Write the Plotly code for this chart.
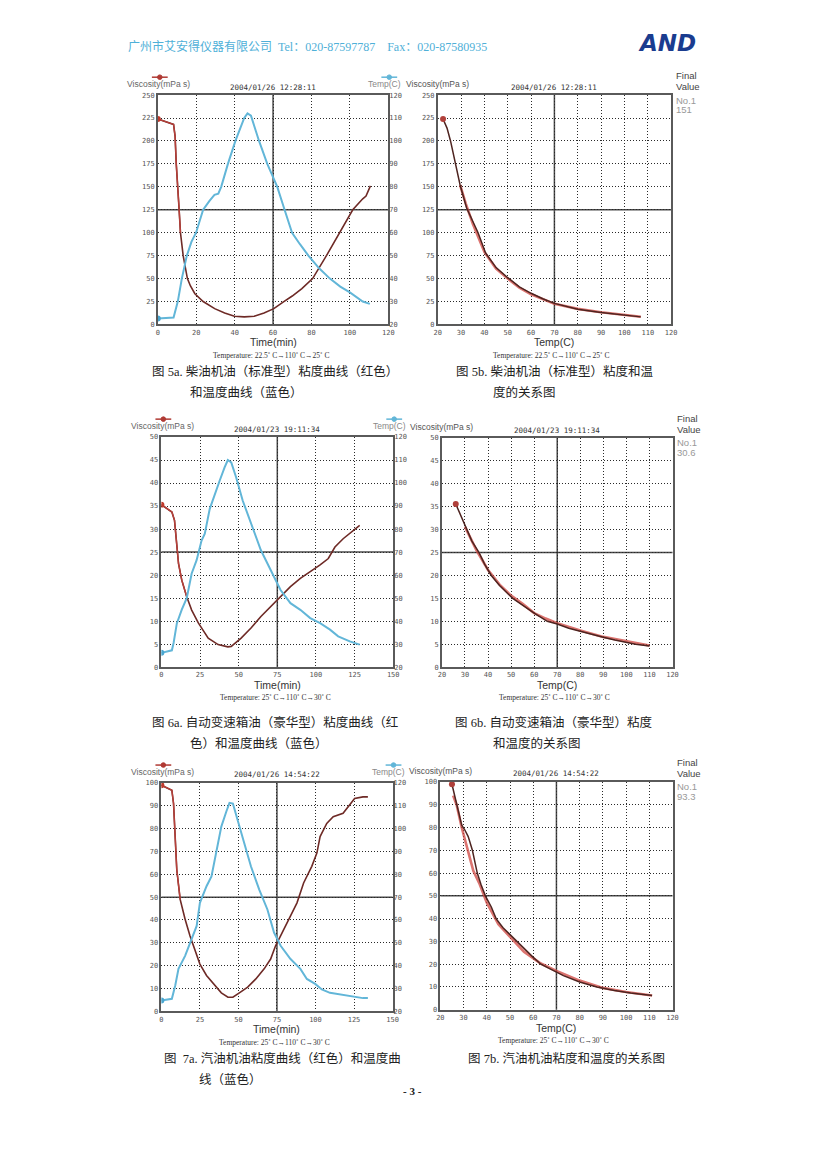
import plotly.graph_objects as go

W, H = 826, 1169
def px(x): return x / W
def py(y): return 1 - y / H

# ---------------- DATA ----------------
# Fig 5a  (time, viscosity / temperature)
t5a_v = [0, 4, 8.2, 9, 9.6, 11.1, 11.8, 13.2, 15.4, 17, 19.3, 23.6, 29.6, 34.8, 39.9, 45, 50.2, 55.3,
         60.4, 65.6, 70, 75, 80.6, 87.8, 94.7, 101.5, 106.7, 108.4, 110.7]
v5a = [224, 221, 218, 205, 175, 125, 100, 75, 50, 42, 33.5, 25, 17.3, 12.6, 9, 8.3, 9, 12.6,
       17.3, 25, 31, 39, 50, 75, 100, 125, 137, 140, 151]
t5a_T = [0, 8.2, 10.4, 12.5, 15.1, 17.5, 19.9, 23.6, 27, 29.5, 31.5, 33, 36.5, 40.4, 45, 46.7, 48.5,
         52.7, 57, 62.2, 66, 69.9, 74, 78.4, 84, 89.6, 95, 100, 106.7, 110.4]
T5a = [22.6, 23, 30, 40, 50, 56, 60, 70, 74, 76.5, 77, 80, 90, 100, 110, 112, 111,
       100, 90, 80, 70, 60, 55, 50, 44.5, 40, 36.5, 34, 30, 29]
# Fig 5b  (temperature, viscosity) heating / cooling
T5b_up = [22.3, 24, 25.5, 27.5, 29.6, 32.4, 35, 37.3, 40.5, 45, 50, 55, 60, 65, 70, 75, 80, 90, 100, 107]
v5b_up = [224, 214, 200, 176, 152, 127, 112, 100, 78, 62, 51, 41, 34, 28, 23, 19.5, 16.6, 13, 10, 8.3]
T5b_dn = [107, 100, 90, 80, 70, 60, 55, 50, 45, 40, 35, 32, 29.6]
v5b_dn = [8.5, 10.3, 13.4, 17, 22.5, 33, 40, 50, 61, 79, 110, 132, 152]

# Fig 6a
t6a_v = [0, 6.8, 8.5, 10, 11.1, 13.2, 16.4, 19.6, 23.9, 30.3, 36.7, 43, 45.2, 51.6, 58, 64.4, 70.7,
         77.1, 83.5, 89.9, 96.3, 102.7, 108, 112.3, 117.6, 123, 128.3]
v6a = [35.3, 33.7, 31.9, 26.8, 22.5, 18.9, 15.3, 12.4, 9.6, 6.3, 4.9, 4.4, 4.5, 6.3, 8.5, 11, 13.2,
       15.3, 17.5, 19.3, 20.7, 22.2, 23.6, 26.1, 27.9, 29.4, 30.8]
t6a_T = [0, 6.8, 7.9, 10, 13.2, 16.4, 19.6, 22.8, 26, 28.1, 31.3, 34.5, 37.7, 40.9, 43, 45.2, 48.4,
         52.6, 58, 64.4, 70.7, 77.1, 83.5, 89.9, 96.3, 102.7, 109.1, 114.4, 121.9, 128.3]
T6a = [26.2, 27.3, 30.5, 39, 45, 50, 60.7, 66.5, 75, 78, 88.8, 95.3, 101, 106.8, 110, 109, 102.4,
       92.4, 82.3, 70.8, 62.2, 53.5, 47.8, 44.9, 41.3, 39.1, 36.3, 33.4, 31.2, 29.8]
# Fig 6b
T6b_up = [26, 28, 30.7, 33, 36.1, 38.5, 41.4, 45, 50.7, 55, 60, 65.7, 70, 75, 80, 85, 90, 95, 100, 104, 110]
v6b_up = [35.6, 33.2, 30, 27.5, 25, 22.5, 20, 17.8, 15, 13.5, 11.8, 10, 9.4, 8.5, 7.8, 7.1, 6.5, 5.9, 5.4, 5.0, 4.6]
T6b_dn = [110, 100, 90, 80, 70, 65, 60, 55, 50, 45, 40, 35, 30]
v6b_dn = [4.7, 5.6, 6.6, 8.0, 9.6, 10.6, 11.8, 13.8, 15.6, 18, 21.2, 25.5, 30.6]

# Fig 7a
t7a_v = [0, 4.7, 6.8, 7.9, 9, 10, 12.2, 15.4, 18.6, 21.8, 25, 29.3, 34.6, 38.9, 43.2, 46.4, 50.6, 56,
         61.3, 66.7, 70.9, 74.1, 78.4, 82.7, 88, 92.3, 97.6, 100.9, 103, 107.3, 111.5, 117.9, 121.2,
         125.4, 130.8, 134]
v7a = [99, 97.5, 96.8, 91, 76.5, 62, 49, 40.3, 33, 27.2, 20.7, 15.7, 11.3, 8.1, 6.2, 6.2, 8.1, 10.6,
       14.2, 18.6, 22.9, 28.7, 34.5, 40.3, 47.5, 56.2, 63.5, 69.3, 76.5, 82.3, 85.2, 86.7, 89.6,
       93.2, 93.9, 93.9]
t7a_T = [0, 6.8, 9, 11.1, 15.4, 20.7, 22.9, 25, 29.3, 32.5, 35.7, 38.9, 42.1, 44.2, 46.4, 49.6, 53.8,
         58.1, 63.5, 68.8, 73.1, 77.4, 83.8, 90.2, 94.4, 99.8, 104.1, 109.4, 117.9, 124.4, 130.8, 134]
T7a = [24.8, 25.5, 31.3, 38.6, 44.3, 53, 57.4, 67.5, 74.8, 79.1, 89.3, 100.9, 107.4, 111.3, 111, 103.8,
       93.6, 83.5, 73.3, 64.6, 54.5, 48.7, 42.9, 38.6, 34.2, 32, 29.6, 28.1, 27.2, 26.2, 25.8, 25.8]
# Fig 7b
T7b_up = [25, 26, 27.1, 28.5, 29.2, 30.5, 32, 33.8, 35.9, 37.5, 39.4, 42, 44, 47, 50, 52.6, 56, 60,
          63.3, 68, 73, 80, 87.4, 95, 102, 111.2]
v7b_up = [99, 94, 90, 84, 81, 79, 76, 70, 60, 55, 50, 45, 40, 36, 33, 30, 27, 23, 20, 17.5, 15,
          12.2, 10, 8.5, 7.4, 6.3]
T7b_dn = [111.2, 100, 90, 80, 70, 63.3, 56, 50, 45, 40, 37, 34.2, 31.8, 29.2, 27, 25.5]
v7b_dn = [6.3, 7.8, 9.6, 12.8, 17, 20.3, 25.5, 32, 37.5, 47, 55, 61, 70, 80, 90, 94]

# labels
dates = ["2004/01/26 12:28:11", "2004/01/23 19:11:34", "2004/01/26 14:54:22"]
finals = ["151", "30.6", "93.3"]
temp_programs = ["Temperature: 22.5˚ C→110˚ C→25˚ C", "Temperature: 25˚ C→110˚ C→30˚ C",
                 "Temperature: 25˚ C→110˚ C→30˚ C"]
captions_a = [["图 5a. 柴油机油（标准型）粘度曲线（红色）", "和温度曲线（蓝色）"],
              ["图 6a. 自动变速箱油（豪华型）粘度曲线（红", "色）和温度曲线（蓝色）"],
              ["图  7a. 汽油机油粘度曲线（红色）和温度曲", "线（蓝色）"]]
captions_b = [["图 5b. 柴油机油（标准型）粘度和温", "度的关系图"],
              ["图 6b. 自动变速箱油（豪华型）粘度", "和温度的关系图"],
              ["图 7b. 汽油机油粘度和温度的关系图"]]
header = "广州市艾安得仪器有限公司  Tel：020-87597787    Fax：020-87580935"

# ---------------- STYLE ----------------
VISC = "#6e2a26"
VISC_RED = "#d0453f"
TEMP = "#62b6d8"
TICKF = dict(family="DejaVu Sans Mono", size=7, color="#555")
SERIF = "Liberation Serif, Noto Sans CJK SC"

boxes = {  # L, R, T, B in page pixels
    "5a": (155.7, 389, 91.7, 322.7), "5b": (439, 675.3, 91.7, 322.7),
    "6a": (159.3, 394, 436, 667.7), "6b": (443.3, 676.7, 437, 667.7),
    "7a": (159.3, 393.3, 784.3, 1014.3), "7b": (441.7, 676.7, 783.3, 1012.7),
}

fig = go.Figure()
layout = dict(width=W, height=H, margin=dict(l=0, r=0, t=0, b=0),
              paper_bgcolor="white", plot_bgcolor="white", showlegend=False)
shapes, anns = [], []

def ann(text, x, y, size, color="#333", family="Liberation Sans", xanchor="center", **kw):
    anns.append(dict(text=text, x=px(x), y=py(y), xref="paper", yref="paper", showarrow=False,
                     xanchor=xanchor, yanchor="middle", font=dict(size=size, color=color, family=family), **kw))

def axis_common():
    return dict(showgrid=True, gridcolor="#2a2a2a", griddash="1px,2px", gridwidth=1, showline=True,
                mirror=True, linecolor="#5a5a5a", linewidth=1.5, zeroline=False, tickfont=TICKF,
                ticks="", fixedrange=True)

def setup(idx, key, xr, xd, yr, yd, xmid, ymid, yr2=None, y2idx=None):
    L, R, T, B = boxes[key]
    xs = "" if idx == 1 else str(idx)
    xa = axis_common(); xa.update(domain=[px(L), px(R)], range=xr, dtick=xd, tick0=xr[0], anchor="y" + xs)
    ya = axis_common(); ya.update(domain=[py(B), py(T)], range=yr, dtick=yd, tick0=yr[0], anchor="x" + xs)
    layout["xaxis" + xs] = xa
    layout["yaxis" + xs] = ya
    if yr2 is not None:
        layout["yaxis" + str(y2idx)] = dict(overlaying="y" + xs, side="right", anchor="x" + xs,
                                            range=yr2, dtick=10, tick0=yr2[0], showgrid=False,
                                            showline=False, zeroline=False, tickfont=TICKF, ticks="",
                                            fixedrange=True)
    shapes.append(dict(type="line", xref="x" + xs, yref="y" + xs + " domain", x0=xmid, x1=xmid, y0=0, y1=1,
                       layer="below", line=dict(color="#4a4a4a", width=1.5)))
    shapes.append(dict(type="line", xref="x" + xs + " domain", yref="y" + xs, x0=0, x1=1, y0=ymid, y1=ymid,
                       layer="below", line=dict(color="#4a4a4a", width=1.5)))
    return xs

def legend_mark(cx, y, color):
    shapes.append(dict(type="line", xref="paper", yref="paper", x0=px(cx - 8), x1=px(cx + 8),
                       y0=py(y), y1=py(y), line=dict(color=color, width=1.5)))
    shapes.append(dict(type="circle", xref="paper", yref="paper", x0=px(cx - 2.3), x1=px(cx + 2.3),
                       y0=py(y + 2.3), y1=py(y - 2.3), fillcolor=color, line=dict(color=color, width=1)))

def panel_a(idx, key, y2idx, t_v, v, t_T, T, xr, xd, yr, yd, xmid, ymid, row):
    xs = setup(idx, key, xr, xd, yr, yd, xmid, ymid, yr2=[20, 120], y2idx=y2idx)
    fig.add_trace(go.Scatter(x=t_T, y=T, xaxis="x" + xs, yaxis="y" + str(y2idx), mode="lines",
                             line=dict(color=TEMP, width=2)))
    fig.add_trace(go.Scatter(x=t_v, y=v, xaxis="x" + xs, yaxis="y" + xs, mode="lines",
                             line=dict(color=VISC, width=1.6)))
    fig.add_trace(go.Scatter(x=t_v[:7], y=v[:7], xaxis="x" + xs, yaxis="y" + xs, mode="lines",
                             line=dict(color="#b8403a", width=1.4)))
    fig.add_trace(go.Scatter(x=[t_T[0]], y=[T[0]], xaxis="x" + xs, yaxis="y" + str(y2idx), mode="markers",
                             marker=dict(color="#4aa6d0", size=6)))
    fig.add_trace(go.Scatter(x=[t_v[0]], y=[v[0]], xaxis="x" + xs, yaxis="y" + xs, mode="markers",
                             marker=dict(color="#c0392b", size=6)))
    L, R, T_, B = boxes[key]
    ann("Viscosity(mPa s)", L + 1, T_ - 11, 8.5, "#666")
    ann("Temp(C)", R - 4, T_ - 11, 8.5, "#888")
    legend_mark(L + 2, T_ - 18, "#b03a34")
    legend_mark(R + 1, T_ - 18, TEMP)
    ann(dates[row], (L + R) / 2, T_ - 8, 7.5, "#333", "DejaVu Sans Mono")
    ann("Time(min)", (L + R) / 2, B + 18, 10.5, "#333")
    ann(temp_programs[row], (L + R) / 2 - 2, B + 31, 7.5, "#333", SERIF)

def panel_b(idx, key, Tu, vu, Td, vd, yr, yd, ymid, row):
    xs = setup(idx, key, [20, 120], 10, yr, yd, 70, ymid)
    fig.add_trace(go.Scatter(x=Td, y=vd, xaxis="x" + xs, yaxis="y" + xs, mode="lines",
                             line=dict(color=VISC_RED, width=2.6), opacity=0.75))
    fig.add_trace(go.Scatter(x=Tu, y=vu, xaxis="x" + xs, yaxis="y" + xs, mode="lines",
                             line=dict(color="#4e2420", width=1.5)))
    fig.add_trace(go.Scatter(x=[Tu[0]], y=[vu[0]], xaxis="x" + xs, yaxis="y" + xs, mode="markers",
                             marker=dict(color="#b0403a", size=6)))
    L, R, T_, B = boxes[key]
    ann("Viscosity(mPa s)", L, T_ - 11, 8.5, "#555")
    ann(dates[row], (L + R) / 2, T_ - 8, 7.5, "#333", "DejaVu Sans Mono")
    ann("Final", R + 3, T_ - 20, 9.5, "#444", xanchor="left")
    ann("Value", R + 3, T_ - 9, 9.5, "#444", xanchor="left")
    ann("No.1", R + 3, T_ + 5, 9.5, "#999", xanchor="left")
    ann(finals[row], R + 3, T_ + 15, 9.5, "#999", xanchor="left")
    ann("Temp(C)", (L + R) / 2, B + 18, 10.5, "#333")
    ann(temp_programs[row], (L + R) / 2 - 3, B + 31, 7.5, "#333", SERIF)

panel_a(1, "5a", 7, t5a_v, v5a, t5a_T, T5a, [0, 120], 20, [0, 250], 25, 60, 125, 0)
panel_b(2, "5b", T5b_up, v5b_up, T5b_dn, v5b_dn, [0, 250], 25, 125, 0)
panel_a(3, "6a", 8, t6a_v, v6a, t6a_T, T6a, [0, 150], 25, [0, 50], 5, 75, 25, 1)
panel_b(4, "6b", T6b_up, v6b_up, T6b_dn, v6b_dn, [0, 50], 5, 25, 1)
panel_a(5, "7a", 9, t7a_v, v7a, t7a_T, T7a, [0, 150], 25, [0, 100], 10, 75, 50, 2)
panel_b(6, "7b", T7b_up, v7b_up, T7b_dn, v7b_dn, [0, 100], 10, 50, 2)

# captions
cap_y = [(370, 391), (723, 745), (1062, 1083)]
cap_a_x = [(148, 186), (148, 186), (160, 195)]
cap_b_x = [(456, 493), (455, 493), (468, 0)]
for i in range(3):
    for j, line in enumerate(captions_a[i]):
        ann(line, cap_a_x[i][j], cap_y[i][j], 12.5, "#222", SERIF, xanchor="left")
    for j, line in enumerate(captions_b[i]):
        ann(line, cap_b_x[i][j], cap_y[i][j], 12.5, "#222", SERIF, xanchor="left")

# header, logo, page number
ann(header, 124, 43, 12, "#4fb0d8", SERIF, xanchor="left")
ann("<b><i>AND</i></b>", 671, 39, 23, "#1a3c8f", "DejaVu Sans")
ann("<b>- 3 -</b>", 413, 1094, 11, "#222", SERIF)

layout["shapes"] = shapes
layout["annotations"] = anns
fig.update_layout(**layout)
fig.write_html("out.html")
